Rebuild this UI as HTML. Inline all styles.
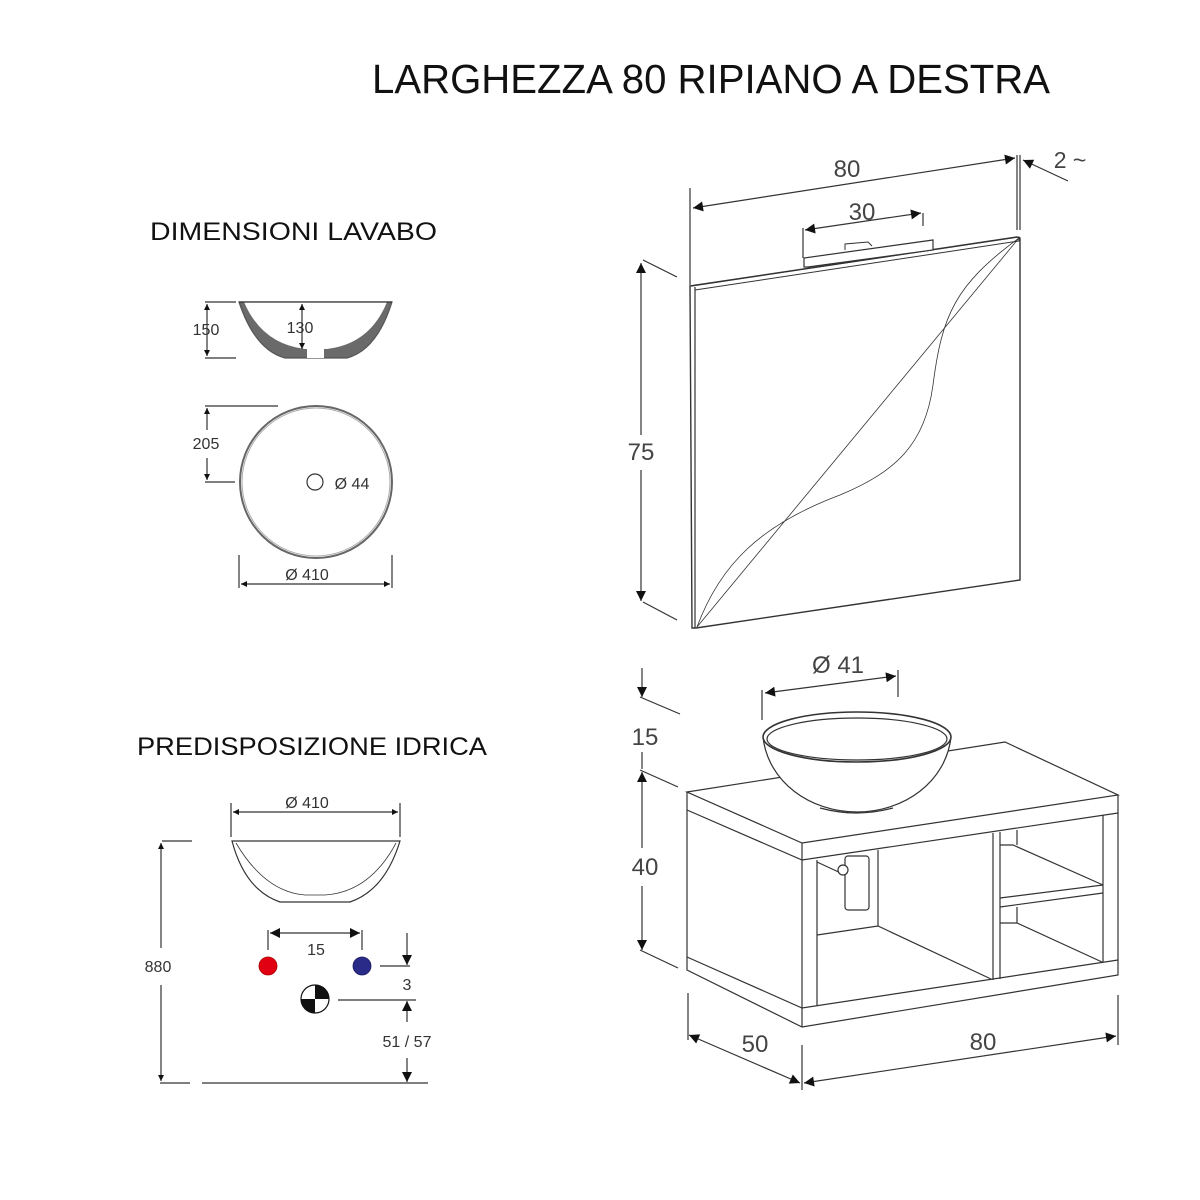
<!DOCTYPE html>
<html><head><meta charset="utf-8"><style>html,body{margin:0;padding:0;background:#fff}svg{display:block}</style></head>
<body>
<svg width="1200" height="1200" viewBox="0 0 1200 1200" xmlns="http://www.w3.org/2000/svg" font-family="Liberation Sans, sans-serif">
<defs>
<marker id="a" viewBox="0 0 10 10" refX="10" refY="5" markerWidth="8" markerHeight="6" orient="auto-start-reverse" markerUnits="userSpaceOnUse"><path d="M0,0 L10,5 L0,10 Z" fill="#111"/></marker>
<marker id="b" viewBox="0 0 10 10" refX="10" refY="5" markerWidth="15" markerHeight="10" orient="auto-start-reverse" markerUnits="userSpaceOnUse"><path d="M0,0 L10,5 L0,10 Z" fill="#111"/></marker>
</defs>
<rect width="1200" height="1200" fill="#fff"/>
<text x="372" y="93" font-size="41" fill="#111" textLength="678" lengthAdjust="spacingAndGlyphs">LARGHEZZA 80 RIPIANO A DESTRA</text>
<text x="150" y="240" font-size="25" fill="#111" textLength="287" lengthAdjust="spacingAndGlyphs">DIMENSIONI LAVABO</text>
<text x="137" y="755" font-size="25" fill="#111" textLength="350" lengthAdjust="spacingAndGlyphs">PREDISPOSIZIONE IDRICA</text>

<g stroke="#333" fill="none" stroke-width="1.2">
<!-- Mirror -->
<line x1="690" y1="188" x2="690" y2="285"/>
<line x1="1017" y1="155" x2="1017" y2="230"/><line x1="1020" y1="155" x2="1020" y2="230"/>
<line x1="693" y1="208" x2="1015" y2="158" marker-start="url(#b)" marker-end="url(#b)"/>
<line x1="1068" y1="181" x2="1023" y2="160" marker-end="url(#b)"/>
<line x1="803" y1="228" x2="803" y2="258"/><line x1="923" y1="213" x2="923" y2="226"/>
<line x1="805" y1="230" x2="921" y2="213" marker-start="url(#b)" marker-end="url(#b)"/>
<line x1="641" y1="263" x2="641" y2="435" marker-start="url(#b)"/>
<line x1="641" y1="470" x2="641" y2="601" marker-end="url(#b)"/>
<line x1="643" y1="260" x2="677" y2="277"/><line x1="643" y1="602" x2="677" y2="620"/>
<path d="M690,286 L1017,237 L1020,238 L1020,580 L696,628 L692,628 Z" fill="#fff" stroke-width="1.4"/>
<line x1="695" y1="287" x2="695" y2="628"/>
<path d="M692,286 L1019,237 L1019,241 L695,290" stroke-width="1"/>
<path d="M804,258 L804,267 L808,267 L933,250 L933,240 L804,258 Z" fill="#fff"/>
<path d="M845,250 L845,244 L868,242 L872,246" stroke-width="1"/>
<line x1="697" y1="627" x2="1019" y2="238" stroke-width="0.8"/>
<path d="M697,627 C720,565 760,525 840,495 C895,472 925,445 933,385 C942,315 955,285 1019,238" stroke-width="0.8"/>

<!-- Cabinet -->
<path d="M687,792 L1005,742 L1118,795 L802,843 Z" fill="#fff"/>
<path d="M802,843 L802,1027 M1118,795 L1118,975 L802,1027 L687,970 L687,792"/>
<path d="M687,810 L802,860 L1118,813"/>
<path d="M687,957 L802,1008 L1118,960"/>
<line x1="817" y1="860" x2="817" y2="1006"/>
<line x1="993" y1="833" x2="993" y2="980"/><line x1="1000" y1="832" x2="1000" y2="979"/>
<line x1="1103" y1="815" x2="1103" y2="962"/>
<path d="M817,935 L878,926 L991,979 M878,850 L878,926"/>
<path d="M817,862 L845,875"/>
<rect x="845" y="856" width="24" height="54" rx="3" fill="#fff"/>
<circle cx="843" cy="870" r="5" fill="#fff"/>
<path d="M1000,845 L1013,845 L1103,885 M1000,898 L1103,885 M1000,907 L1103,893 M1017,830 L1017,845 M1017,907 L1017,923 M1000,923 L1017,923 L1102,962"/>
<!-- bowl -->
<path d="M763,737 C768,782 810,812 857,812 C904,812 946,782 951,737" fill="#fff"/>
<ellipse cx="857" cy="737" rx="94" ry="25" fill="#fff" stroke-width="1.6"/>
<ellipse cx="857" cy="739" rx="90" ry="21"/>
<path d="M820,808 Q857,818 893,808"/>
<line x1="762" y1="690" x2="762" y2="720"/><line x1="898" y1="670" x2="898" y2="697"/>
<line x1="765" y1="693" x2="896" y2="676" marker-start="url(#b)" marker-end="url(#b)"/>
<!-- 15 / 40 -->
<line x1="642" y1="668" x2="642" y2="697" marker-end="url(#b)"/>
<line x1="640" y1="697" x2="680" y2="714"/>
<line x1="642" y1="752" x2="642" y2="769"/>
<line x1="642" y1="848" x2="642" y2="772" marker-end="url(#b)"/>
<line x1="642" y1="886" x2="642" y2="950" marker-end="url(#b)"/>
<line x1="640" y1="770" x2="678" y2="787"/><line x1="640" y1="950" x2="678" y2="968"/>
<!-- 50 / 80 -->
<line x1="688" y1="993" x2="688" y2="1040"/><line x1="802" y1="1045" x2="802" y2="1090"/><line x1="1118" y1="995" x2="1118" y2="1045"/>
<line x1="689" y1="1035" x2="800" y2="1083" marker-start="url(#b)" marker-end="url(#b)"/>
<line x1="804" y1="1083" x2="1116" y2="1036" marker-start="url(#b)" marker-end="url(#b)"/>

<!-- Lavabo section top -->
<line x1="205" y1="302" x2="236" y2="302"/><line x1="205" y1="358" x2="236" y2="358"/>
<line x1="207" y1="304" x2="207" y2="356" marker-start="url(#a)" marker-end="url(#a)"/>
<path d="M239,302 Q255,350 285,358 L347,358 Q377,350 392,302 Z" fill="#6a6a6a" stroke="#555"/>
<path d="M244,302 Q262,344 305,349 L327,349 Q370,344 387,302 Z" fill="#fff" stroke="none"/>
<rect x="307" y="347" width="17" height="11" fill="#fff" stroke="none"/>
<line x1="239" y1="302" x2="392" y2="302"/>
<line x1="302" y1="304" x2="302" y2="349" marker-start="url(#a)" marker-end="url(#a)"/>
<circle cx="316" cy="482" r="76" stroke="#666" stroke-width="2"/>
<circle cx="316" cy="482" r="74" stroke="#aaa" stroke-width="1"/>
<circle cx="315" cy="482" r="8"/>
<line x1="205" y1="406" x2="278" y2="406"/><line x1="205" y1="482" x2="235" y2="482"/>
<line x1="207" y1="408" x2="207" y2="430" marker-start="url(#a)"/><line x1="207" y1="458" x2="207" y2="480" marker-end="url(#a)"/>
<line x1="239" y1="555" x2="239" y2="588"/><line x1="392" y1="555" x2="392" y2="588"/>
<line x1="241" y1="584" x2="390" y2="584" marker-start="url(#a)" marker-end="url(#a)"/>

<!-- Predisposizione -->
<line x1="231" y1="803" x2="231" y2="837"/><line x1="400" y1="803" x2="400" y2="837"/>
<line x1="233" y1="812" x2="398" y2="812" marker-start="url(#a)" marker-end="url(#a)"/>
<path d="M232,841 L400,841 Q385,890 350,902 L280,902 Q245,890 232,841 Z" fill="#fff"/>
<path d="M236,843 Q265,892 305,895 L325,895 Q370,892 396,843" stroke-width="0.8"/>
<line x1="162" y1="841" x2="192" y2="841"/><line x1="160" y1="1083" x2="190" y2="1083"/><line x1="202" y1="1083" x2="428" y2="1083"/>
<line x1="161" y1="843" x2="161" y2="948" marker-start="url(#a)"/><line x1="161" y1="985" x2="161" y2="1081" marker-end="url(#a)"/>
<line x1="268" y1="930" x2="268" y2="950"/><line x1="362" y1="930" x2="362" y2="950"/>
<line x1="270" y1="933" x2="360" y2="933" marker-start="url(#b)" marker-end="url(#b)"/>
<line x1="407" y1="933" x2="407" y2="965" marker-end="url(#b)"/>
<line x1="380" y1="966" x2="410" y2="966"/><line x1="338" y1="1000" x2="416" y2="1000"/>
<line x1="407" y1="1001" x2="407" y2="1022" marker-start="url(#b)"/><line x1="407" y1="1058" x2="407" y2="1082" marker-end="url(#b)"/>
</g>
<circle cx="268" cy="966" r="9" fill="#e00012" stroke="#a00" stroke-width="0.8"/>
<circle cx="362" cy="966" r="9" fill="#2a2a88" stroke="#1a1a60" stroke-width="0.8"/>
<circle cx="315" cy="999" r="14" fill="#fff" stroke="#111" stroke-width="1.2"/>
<path d="M315,999 L315,985 A14,14 0 0 1 329,999 Z M315,999 L315,1013 A14,14 0 0 1 301,999 Z" fill="#111"/>

<g fill="#444" font-size="24" text-anchor="middle">
<text x="847" y="177">80</text>
<text x="862" y="220">30</text>
<text x="1070" y="168" font-size="23">2 ~</text>
<text x="641" y="460">75</text>
<text x="838" y="673">Ø 41</text>
<text x="645" y="745">15</text>
<text x="645" y="875">40</text>
<text x="755" y="1052">50</text>
<text x="983" y="1050">80</text>
</g>
<g fill="#333" font-size="16" text-anchor="middle">
<text x="206" y="335">150</text>
<text x="300" y="333">130</text>
<text x="206" y="449">205</text>
<text x="352" y="489">Ø 44</text>
<text x="307" y="580">Ø 410</text>
<text x="307" y="808">Ø 410</text>
<text x="158" y="972">880</text>
<text x="316" y="955">15</text>
<text x="407" y="990">3</text>
<text x="407" y="1047">51 / 57</text>
</g>
</svg>
</body></html>
